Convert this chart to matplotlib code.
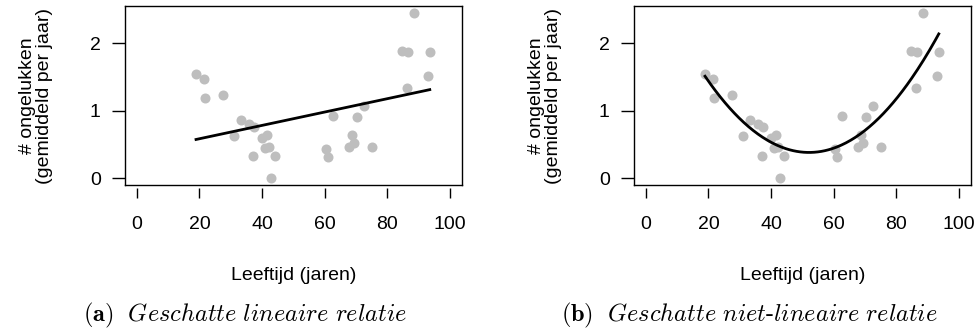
import numpy as np
import matplotlib
matplotlib.use("Agg")
import matplotlib.pyplot as plt

plt.rcParams["font.family"] = ["Liberation Sans", "DejaVu Sans"]
plt.rcParams["mathtext.fontset"] = "cm"

# Leeftijd (jaren) en gemiddeld aantal ongelukken per jaar
age = [18.9, 21.4, 21.9, 27.4, 33.4, 31.1, 35.9, 37.4, 37.2, 40.0,
       41.6, 41.1, 42.3, 44.1, 43.0, 62.7, 60.3, 61.1, 70.5, 72.6,
       68.9, 69.3, 67.8, 75.0, 84.6, 86.7, 86.2, 88.6, 93.6, 93.1]
accidents = [1.545, 1.466, 1.194, 1.239, 0.864, 0.632, 0.804, 0.755, 0.335, 0.592,
             0.637, 0.454, 0.469, 0.335, 0.0, 0.923, 0.439, 0.311, 0.913, 1.071,
             0.646, 0.518, 0.469, 0.459, 1.886, 1.866, 1.343, 2.444, 1.866, 1.516]

x_ticks = [0, 20, 40, 60, 80, 100]
y_ticks = [0, 1, 2]
captions = [r"$\mathbf{(a)}\ \ \mathit{Geschatte\ lineaire\ relatie}$",
            r"$\mathbf{(b)}\ \ \mathit{Geschatte\ niet\text{-}lineaire\ relatie}$"]
degrees = [1, 2]

W, H = 979, 333
fig = plt.figure(figsize=(W / 100, H / 100), dpi=100)
lefts = [125, 634]          # linkerrand van de kaders (px)
cap_centers = [245, 749]    # midden van de onderschriften (px)

for left, deg, cap, cc in zip(lefts, degrees, captions, cap_centers):
    ax = fig.add_axes([left / W, 148 / H, 337 / W, 179 / H])
    ax.scatter(age, accidents, s=52, color="#bebebe", linewidths=0, zorder=2)

    coef = np.polyfit(age, accidents, deg)
    xs = np.linspace(min(age), max(age), 200)
    ax.plot(xs, np.polyval(coef, xs), color="black", lw=2, zorder=3)

    ax.set_xlim(-3.8, 103.9)
    ax.set_ylim(-0.1, 2.55)
    ax.set_xticks(x_ticks)
    ax.set_yticks(y_ticks)
    ax.tick_params(axis="both", direction="out", width=1, labelsize=14)
    ax.tick_params(axis="x", length=7.5, pad=13)
    ax.tick_params(axis="y", length=9.4, pad=8)

    # x-as los onder het kader, zoals in R
    ax.spines["bottom"].set_position(("outward", 2))
    ax.spines["bottom"].set_visible(False)
    ax.plot([0, 1], [0, 0], transform=ax.transAxes, color="black", lw=1,
            clip_on=False, zorder=4)
    for sp in ax.spines.values():
        sp.set_linewidth(1)

    xc = (left + 337 / 2) / W
    fig.text(xc, 1 - 275 / H, "Leeftijd (jaren)", fontsize=14,
             ha="center", va="center")
    fig.text((left - 89) / W, 1 - 96 / H, "# ongelukken\n(gemiddeld per jaar)",
             fontsize=14, rotation=90, ha="center", va="center",
             multialignment="center", linespacing=1.0)
    fig.text(cc / W, 1 - 315 / H, cap, fontsize=17.5, ha="center", va="center")

fig.savefig("out.png", dpi=100)
